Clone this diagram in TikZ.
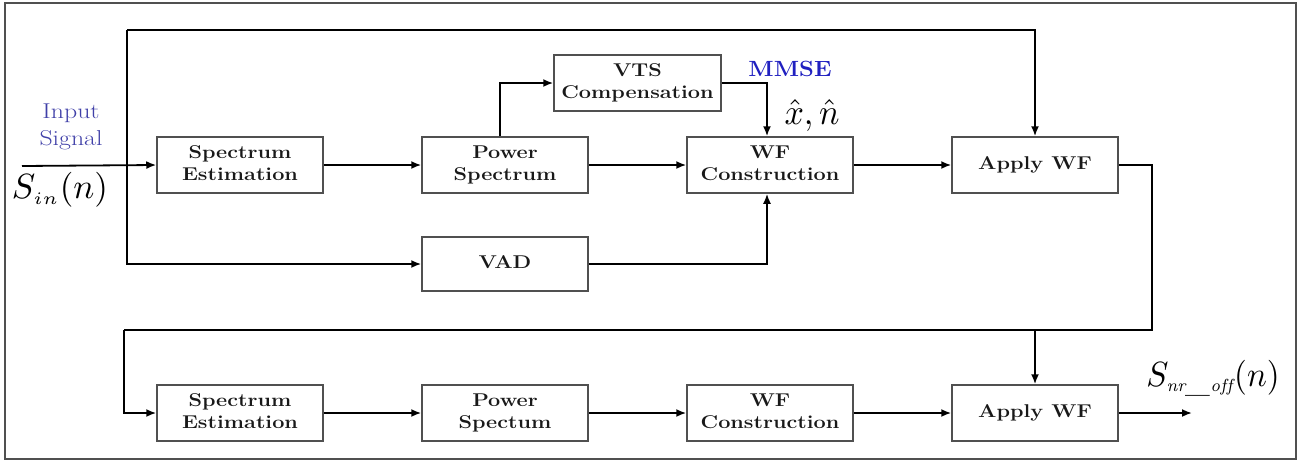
\documentclass[tikz,border=0pt]{standalone}
\usepackage{fontspec}
\usepackage{graphicx}
\usetikzlibrary{arrows.meta,positioning}
\definecolor{boxline}{HTML}{505050}
\definecolor{inblue}{HTML}{4040A8}
\definecolor{mmseblue}{HTML}{2020C0}
\newcommand\sx[1]{\scalebox{1.17}[1]{\begin{tabular}{@{}c@{}}#1\end{tabular}}}
\tikzset{
  blk/.style={draw=boxline, line width=1.5pt, minimum width=166pt, minimum height=56pt, inner sep=0pt, align=center, font=\fontsize{18.5}{22.5}\selectfont\bfseries, text=black!90},
  arr/.style={line width=1.8pt, -{Latex[length=10pt,width=8pt]}},
  ln/.style={line width=1.8pt},
  lbl/.style={inner sep=0pt, align=center}
}
\begin{document}
\begin{tikzpicture}[x=1pt,y=-1pt]
\useasboundingbox (0,0) rectangle (1299,461);
\draw[line width=2pt, draw=boxline] (5,3) rectangle (1296,459);
% top row
\node[blk] (se1) at (240,165) {\sx{Spectrum\\Estimation}};
\node[blk] (ps1) at (505,165) {\sx{Power\\Spectrum}};
\node[blk] (wf1) at (770,165) {\sx{WF\\Construction}};
\node[blk] (aw1) at (1035,165) {\sx{Apply WF}};
\node[blk, minimum width=167pt] (vts) at (637.5,83) {\sx{VTS\\Compensation}};
\node[blk, minimum height=54pt] (vad) at (505,264) {\sx{VAD}};
% bottom row
\node[blk] (se2) at (240,413) {\sx{Spectrum\\Estimation}};
\node[blk] (ps2) at (505,413) {\sx{Power\\Spectum}};
\node[blk] (wf2) at (770,413) {\sx{WF\\Construction}};
\node[blk] (aw2) at (1035,413) {\sx{Apply WF}};
% coordinates
\coordinate (in) at (22,166);
\coordinate (tl) at (127,30);
\coordinate (rc) at (1152,330);
\coordinate (lc) at (124,330);
\coordinate (out) at (1192,413);
% connectors
\draw[arr] (in) -- (se1.west);
\draw[arr] (tl) -| (aw1.north);
\draw[arr] (tl) |- (vad.west);
\draw[arr] (se1) -- (ps1);
\draw[arr] (ps1) -- (wf1);
\draw[arr] (wf1) -- (aw1);
\draw[arr] ([xshift=-5pt]ps1.north) |- (vts.west);
\draw[arr] (vts.east) -| ([xshift=-3pt]wf1.north);
\draw[arr] (vad.east) -| ([xshift=-3pt]wf1.south);
\draw[ln] (aw1.east) -| (rc) -- (lc);
\draw[arr] (lc) |- (se2.west);
\draw[arr] (aw2.north |- rc) -- (aw2.north);
\draw[arr] (se2) -- (ps2);
\draw[arr] (ps2) -- (wf2);
\draw[arr] (wf2) -- (aw2);
\draw[arr] (aw2.east) -- (out);
% labels
\node[lbl, text=inblue, font=\fontsize{21.5}{27}\selectfont] (insig) at (71,127) {\scalebox{1.2}[1]{\begin{tabular}{@{}c@{}}Input\\Signal\end{tabular}}};
\node[lbl] (sin) at (60,190) {\scalebox{3.5}[3.5]{$S_{\scriptscriptstyle in}(n)$}};
\node[lbl, text=mmseblue, font=\fontsize{22}{22}\selectfont\bfseries] (mmse) at (790,69) {\scalebox{1.08}[1]{MMSE}};
\node[lbl] (xn) at (812,115) {\scalebox{3.4}[3.6]{$\hat{x},\hat{n}$}};
\node[lbl] (sout) at (1213,378) {\scalebox{3.3}[3.5]{$S_{\scriptscriptstyle \mathit{nr\_off}}(n)$}};
\end{tikzpicture}
\end{document}
